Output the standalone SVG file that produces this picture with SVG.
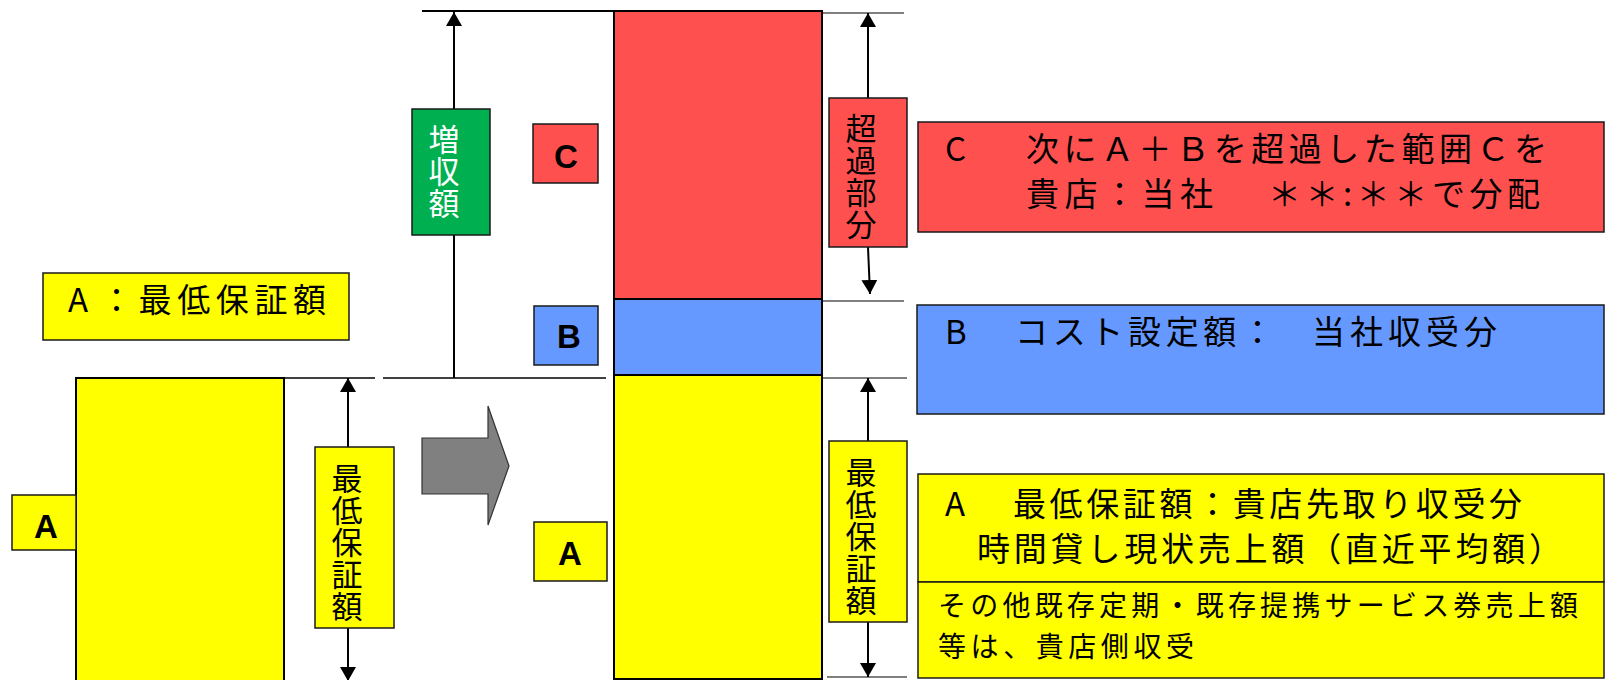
<svg xmlns="http://www.w3.org/2000/svg" width="1606" height="680" viewBox="0 0 1606 680">
<style>
.jp{font-family:"Noto Sans CJK JP","Noto Sans",sans-serif;fill:#000}
.big{font-size:33px}
.mid{font-size:28px}
.vt{font-size:31px;text-anchor:middle;writing-mode:vertical-rl;letter-spacing:1px}
.let{font-family:"Liberation Sans",Arial,sans-serif;font-weight:bold;font-size:33px;text-anchor:middle;fill:#000}
.box{stroke:#1a1a1a;stroke-width:1.5}
.bar{stroke:#000;stroke-width:2}
.ln{stroke:#000;fill:none}
.y{fill:#FFFF00}.r{fill:#FF5050}.b{fill:#6699FF}.g{fill:#00B050}
</style>
<defs>
<marker id="ah" markerUnits="userSpaceOnUse" markerWidth="14" markerHeight="16" refX="14" refY="8" orient="auto">
<path d="M0,0 L14,8 L0,16 z" fill="#000"/>
</marker>
</defs>
<rect width="1606" height="680" fill="#fff"/>

<g id="connectors">
<line class="ln" x1="422" y1="11" x2="614" y2="11" stroke-width="2"/>
<line class="ln" x1="284" y1="378" x2="375" y2="378" stroke-width="1.5"/>
<line class="ln" x1="383" y1="378" x2="606" y2="378" stroke-width="1.5"/>
<line class="ln" x1="822" y1="13" x2="904" y2="13" stroke-width="1.2"/>
<line class="ln" x1="822" y1="301" x2="904" y2="301" stroke-width="1.2"/>
<line class="ln" x1="822" y1="378" x2="907" y2="378" stroke-width="1.2"/>
<line class="ln" x1="827" y1="677" x2="907" y2="677" stroke-width="1.2"/>
<line class="ln" x1="454" y1="378" x2="454" y2="12" stroke-width="2" marker-end="url(#ah)"/>
<line class="ln" x1="348" y1="447" x2="348" y2="378" stroke-width="2" marker-end="url(#ah)"/>
<line class="ln" x1="348" y1="628" x2="348" y2="681" stroke-width="2" marker-end="url(#ah)"/>
<line class="ln" x1="868" y1="98" x2="868" y2="13" stroke-width="2" marker-end="url(#ah)"/>
<line class="ln" x1="868" y1="247" x2="870" y2="294" stroke-width="2" marker-end="url(#ah)"/>
<line class="ln" x1="868" y1="441" x2="868" y2="378" stroke-width="2" marker-end="url(#ah)"/>
<line class="ln" x1="868" y1="622" x2="868" y2="677" stroke-width="2" marker-end="url(#ah)"/>
</g>

<g id="left-bar"><rect class="y bar" x="76" y="378" width="208" height="310"/></g>
<g id="left-A"><rect class="y box" x="12" y="495" width="64" height="55"/><text class="let" x="46" y="538">A</text></g>
<g id="legend-A"><rect class="y box" x="43" y="273" width="306" height="67"/>
<text class="jp big" x="68" y="312">A</text><text class="jp big" x="100" y="312" textLength="226" lengthAdjust="spacing">：最低保証額</text></g>
<g id="left-label"><rect class="y box" x="315" y="447" width="79" height="181"/>
<text class="jp vt" x="347" y="543">最低保証額</text></g>
<g id="increase-label"><rect class="g box" x="412" y="109" width="78" height="126"/>
<text class="jp vt" x="444" y="172" style="fill:#fff">増収額</text></g>
<g id="big-arrow"><polygon points="422,438 488,438 488,406 509,466 488,525 488,494 422,494" fill="#808080" stroke="#333" stroke-width="1.2"/></g>

<g id="stack-C"><rect class="r bar" x="614" y="11" width="208" height="288"/></g>
<g id="stack-B"><rect class="b bar" x="614" y="299" width="208" height="76"/></g>
<g id="stack-A"><rect class="y bar" x="614" y="375" width="208" height="304"/></g>
<g id="tag-C"><rect class="r box" x="533" y="124" width="65" height="59"/><text class="let" x="566" y="168">C</text></g>
<g id="tag-B"><rect class="b box" x="534" y="306" width="64" height="59"/><text class="let" x="569" y="348">B</text></g>
<g id="tag-A"><rect class="y box" x="534" y="522" width="73" height="59"/><text class="let" x="570" y="565">A</text></g>

<g id="excess-label"><rect class="r box" x="829" y="98" width="78" height="149"/>
<text class="jp vt" x="861" y="177">超過部分</text></g>
<g id="min-label"><rect class="y box" x="829" y="441" width="78" height="181"/>
<text class="jp vt" x="861" y="537">最低保証額</text></g>

<g id="desc-C"><rect class="r box" x="918" y="122" width="686" height="110"/>
<text class="jp big" x="945" y="161">C</text>
<text class="jp big" x="1026" y="161" textLength="521" lengthAdjust="spacing">次にＡ＋Ｂを超過した範囲Ｃを</text>
<text class="jp big" x="1026" y="206" textLength="187" lengthAdjust="spacing">貴店：当社</text>
<text class="jp big" x="1268" y="206" textLength="272" lengthAdjust="spacing">＊＊:＊＊で分配</text></g>
<g id="desc-B"><rect class="b box" x="917" y="305" width="687" height="109"/>
<text class="jp big" x="945" y="344">B</text>
<text class="jp big" x="1015" y="344" textLength="259" lengthAdjust="spacing">コスト設定額：</text>
<text class="jp big" x="1312" y="344" textLength="185" lengthAdjust="spacing">当社収受分</text></g>
<g id="desc-A"><rect class="y box" x="918" y="474" width="686" height="108"/>
<text class="jp big" x="945" y="516">A</text>
<text class="jp big" x="1013" y="516" textLength="509" lengthAdjust="spacing">最低保証額：貴店先取り収受分</text>
<text class="jp big" x="977" y="561" textLength="585" lengthAdjust="spacing">時間貸し現状売上額（直近平均額）</text></g>
<g id="desc-A2"><rect class="y box" x="918" y="582" width="686" height="96"/>
<text class="jp mid"><tspan x="938" y="616" textLength="640" lengthAdjust="spacing">その他既存定期・既存提携サービス券売上額</tspan><tspan x="938" y="657" textLength="256" lengthAdjust="spacing">等は、貴店側収受</tspan></text></g>
</svg>
